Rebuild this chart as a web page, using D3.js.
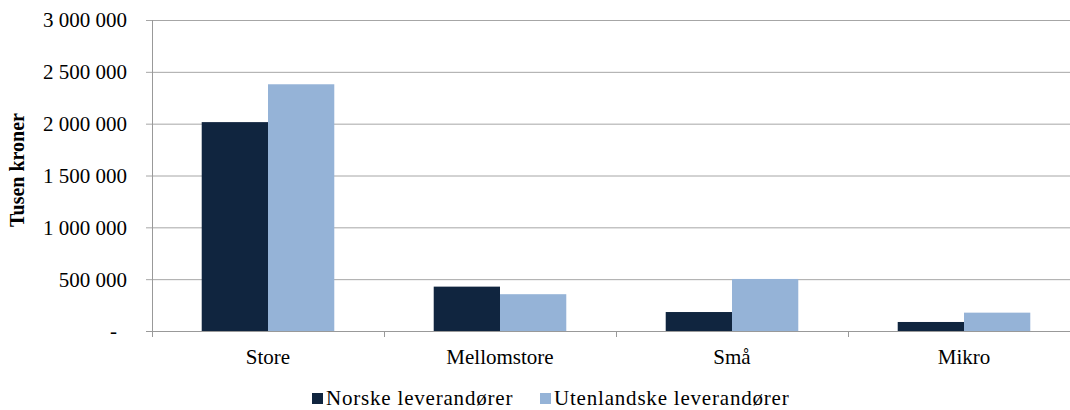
<!DOCTYPE html>
<html>
<head>
<meta charset="utf-8">
<script src="https://cdn.jsdelivr.net/npm/d3@7"></script>
<style>
  body { margin: 0; background: #fff; }
  text { font-family: "Liberation Serif", "Times New Roman", serif; fill: #000; }
</style>
</head>
<body>
<div id="chart"></div>
<script>
// data
var categories = ["Store", "Mellomstore", "Små", "Mikro"];
var seriesNames = ["Norske leverandører", "Utenlandske leverandører"];
var norske = [2015000, 428000, 183000, 87000];
var utenlandske = [2380000, 355000, 502000, 177000];
var yTicks = [0, 500000, 1000000, 1500000, 2000000, 2500000, 3000000];

var colors = ["#10253f", "#95b3d7"];

var W = 1070, H = 410,
    margin = {t: 20, l: 152, b: 79};

var svg = d3.select("#chart").append("svg")
  .attr("width", W)
  .attr("height", H);

var x = d3.scaleBand().domain(categories).range([margin.l, 1080]);
var x1 = d3.scaleBand().domain([0, 1]).range([0, x.bandwidth()]).paddingOuter(0.75);
var y = d3.scaleLinear().domain([0, 3000000]).range([H - margin.b, margin.t]);

// thousands with spaces, zero shown as "-"
function fmt(v) {
  if (v === 0) return "-";
  return d3.format(",")(v).replace(/,/g, " ");
}

// gridlines
svg.append("g")
  .selectAll("line")
  .data(yTicks)
  .enter().append("line")
  .attr("x1", margin.l - 6)
  .attr("x2", W)
  .attr("y1", function(d) { return y(d) + 0.5; })
  .attr("y2", function(d) { return y(d) + 0.5; })
  .style("stroke", function(d) { return d === 0 ? "#999" : "#a6a6a6"; })
  .style("stroke-width", 1);

// y tick labels
svg.append("g")
  .selectAll("text")
  .data(yTicks)
  .enter().append("text")
  .attr("x", function(d) { return d === 0 ? 117 : 127; })
  .attr("y", function(d) { return y(d); })
  .attr("dy", "0.35em")
  .attr("text-anchor", "end")
  .style("font-size", "21px")
  .text(fmt);

// bars
var groups = svg.append("g")
  .selectAll("g")
  .data(categories)
  .enter().append("g")
  .attr("transform", function(d) { return "translate(" + x(d) + ",0)"; });

groups.selectAll("rect")
  .data(function(d, i) { return [norske[i], utenlandske[i]]; })
  .enter().append("rect")
  .attr("x", function(d, j) { return x1(j); })
  .attr("width", x1.bandwidth())
  .attr("y", function(d) { return y(d); })
  .attr("height", function(d) { return y(0) - y(d); })
  .style("fill", function(d, j) { return colors[j]; });

// y axis line
svg.append("line")
  .attr("x1", margin.l + 0.5).attr("x2", margin.l + 0.5)
  .attr("y1", margin.t).attr("y2", y(0) + 6)
  .style("stroke", "#999");

// category ticks
svg.append("g")
  .selectAll("line")
  .data(categories.slice(1))
  .enter().append("line")
  .attr("x1", function(d) { return Math.round(x(d)) + 0.5; })
  .attr("x2", function(d) { return Math.round(x(d)) + 0.5; })
  .attr("y1", y(0))
  .attr("y2", y(0) + 6)
  .style("stroke", "#999");

// category labels
svg.append("g")
  .selectAll("text")
  .data(categories)
  .enter().append("text")
  .attr("x", function(d) { return x(d) + x.bandwidth() / 2; })
  .attr("y", 364)
  .attr("text-anchor", "middle")
  .style("font-size", "21px")
  .text(function(d) { return d; });

// y axis title
svg.append("text")
  .attr("transform", "translate(24,170) rotate(-90)")
  .attr("text-anchor", "middle")
  .style("font-size", "20px")
  .style("font-weight", "bold")
  .text("Tusen kroner");

// legend
var legendX = [312, 540];
var legend = svg.append("g")
  .selectAll("g")
  .data(seriesNames)
  .enter().append("g")
  .attr("transform", function(d, i) { return "translate(" + legendX[i] + ",393)"; });

legend.append("rect")
  .attr("width", 11)
  .attr("height", 11)
  .style("fill", function(d, i) { return colors[i]; });

legend.append("text")
  .attr("x", 14)
  .attr("y", 12)
  .style("font-size", "21px")
  .style("letter-spacing", "0.8px")
  .text(function(d) { return d; });
</script>
</body>
</html>
